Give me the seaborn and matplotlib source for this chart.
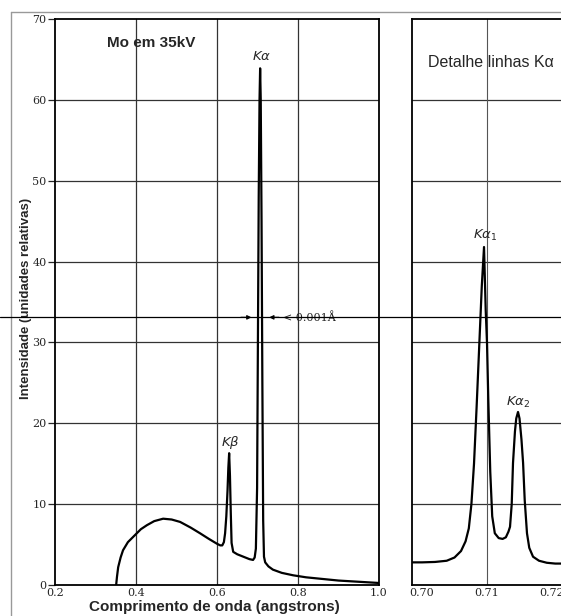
import numpy as np
import pandas as pd
import seaborn as sns
import matplotlib
matplotlib.use("Agg")
import matplotlib.pyplot as plt
from matplotlib.lines import Line2D
from matplotlib import transforms

# espectro completo (Mo, 35 kV)
wl_full = [0.351, 0.353, 0.356, 0.362, 0.368, 0.38, 0.398, 0.412, 0.427, 0.445,
           0.467, 0.488, 0.509, 0.535, 0.558, 0.580, 0.600, 0.608, 0.613, 0.617,
           0.620, 0.623, 0.626, 0.628, 0.630, 0.632, 0.634, 0.636, 0.640, 0.650,
           0.665, 0.680, 0.689, 0.693, 0.696, 0.699, 0.701, 0.703, 0.705, 0.7065,
           0.708, 0.710, 0.712, 0.714, 0.716, 0.719, 0.727, 0.738, 0.760, 0.788,
           0.820, 0.860, 0.900, 0.950, 1.000]
int_full = [0.0, 1.0, 2.2, 3.4, 4.3, 5.3, 6.2, 6.9, 7.4, 7.9,
            8.2, 8.1, 7.8, 7.1, 6.4, 5.7, 5.1, 4.9, 4.9, 5.3,
            6.4, 8.5, 11.7, 14.5, 16.3, 13.5, 9.0, 5.2, 4.1, 3.8,
            3.5, 3.2, 3.1, 3.4, 4.5, 12.0, 30.0, 48.0, 60.0, 63.9,
            60.0, 45.0, 25.0, 8.0, 3.5, 2.8, 2.3, 1.9, 1.5, 1.2,
            0.95, 0.75, 0.55, 0.4, 0.25]

# detalhe das linhas K-alfa
wl_det = [0.6985, 0.7000, 0.7020, 0.7038, 0.7050, 0.7060, 0.7067, 0.7072, 0.7076,
          0.7080, 0.7084, 0.7088, 0.7092, 0.70954, 0.7098, 0.7100, 0.7102, 0.7105,
          0.7108, 0.7112, 0.7118, 0.7124, 0.7129, 0.7133, 0.71354, 0.7138, 0.7140,
          0.7143, 0.7145, 0.71477, 0.7150, 0.7153, 0.71555, 0.7158, 0.71615,
          0.7165, 0.71708, 0.7180, 0.7192, 0.7205, 0.7230]
int_det = [2.8, 2.8, 2.85, 3.0, 3.4, 4.2, 5.4, 7.0, 10.0,
           15.0, 22.0, 29.5, 37.0, 41.8, 34.0, 29.9, 22.9, 14.0,
           8.5, 6.4, 5.8, 5.7, 5.9, 6.6, 7.2, 10.0, 15.1,
           19.0, 20.6, 21.4, 20.6, 18.0, 15.1, 10.5, 6.4,
           4.6, 3.5, 3.0, 2.75, 2.65, 2.65]

yticks = [0, 10, 20, 30, 40, 50, 60, 70]
xticks_full = [0.2, 0.4, 0.6, 0.8, 1.0]
xticks_det = [0.70, 0.71, 0.72]
half_max = 33.1

df_full = pd.DataFrame({"wl": wl_full, "i": int_full})
df_det = pd.DataFrame({"wl": wl_det, "i": int_det})

sns.set_theme(style="white")
plt.rcParams["font.family"] = ["Liberation Sans", "DejaVu Sans"]

W, H = 561, 616
fig = plt.figure(figsize=(W / 100, H / 100), dpi=100)


def box(x0, y0, x1, y1):
    # pixel box -> figure fraction
    return [x0 / W, 1 - y1 / H, (x1 - x0) / W, (y1 - y0) / H]


ax1 = fig.add_axes(box(55, 19, 379, 585))
ax2 = fig.add_axes(box(412, 19, 412 + 0.02415 * 6500, 585))

grid_kw = dict(color="#333333", lw=0.9, zorder=1)
for ax in (ax1, ax2):
    ax.set_ylim(0, 70)
    for y in yticks[1:-1]:
        ax.axhline(y, **grid_kw)
    for s in ax.spines.values():
        s.set_color("black")
        s.set_linewidth(1.3)

ax1.set_xlim(0.2, 1.0)
for x in xticks_full[1:-1]:
    ax1.axvline(x, **grid_kw)
ax2.set_xlim(0.69846, 0.72261)
ax2.axvline(0.71, color="#555555", lw=0.8, zorder=1)

sns.lineplot(data=df_full, x="wl", y="i", ax=ax1, sort=False, estimator=None,
             color="black", lw=1.6, zorder=3)
sns.lineplot(data=df_det, x="wl", y="i", ax=ax2, sort=False, estimator=None,
             color="black", lw=1.6, zorder=3)
for ax in (ax1, ax2):
    ax.set_xlabel("")
    ax.set_ylabel("")

tick_font = dict(family="DejaVu Serif", size=8)
ax1.set_yticks(yticks)
ax1.set_yticklabels([str(v) for v in yticks], **tick_font)
ax1.set_xticks(xticks_full)
ax1.set_xticklabels([f"{v:.1f}" for v in xticks_full], **tick_font)
ax1.tick_params(axis="y", length=5, width=0.9, pad=1, left=True)
ax1.tick_params(axis="x", length=0, pad=2)

ax2.set_yticks([])
ax2.set_xticks(xticks_det)
ax2.set_xticklabels([f"{v:.2f}" for v in xticks_det], **tick_font)
ax2.tick_params(axis="x", length=0, pad=2)
ax2.spines["right"].set_visible(False)

# textos
ax1.text(0.437, 67.0, "Mo em 35kV", ha="center", va="center",
         fontsize=11, fontweight="bold")
ax1.text(0.709, 65.4, r"$K\alpha$", ha="center", va="center", fontsize=9.5,
         family="DejaVu Serif")
ax1.text(0.632, 17.6, r"$K\beta$", ha="center", va="center", fontsize=9.5,
         family="DejaVu Serif")
ax1.text(0.764, half_max, "< 0.001Å", ha="left", va="center", fontsize=8,
         family="DejaVu Serif")
ax1.annotate("", xy=(0.692, half_max), xytext=(0.652, half_max),
             arrowprops=dict(arrowstyle="-|>", color="black", lw=0.9,
                             mutation_scale=6))
ax1.annotate("", xy=(0.722, half_max), xytext=(0.760, half_max),
             arrowprops=dict(arrowstyle="-|>", color="black", lw=0.9,
                             mutation_scale=6))

ax2.text(0.70092, 64.6, "Detalhe linhas Kα", ha="left", va="center",
         fontsize=11.5)
ax2.text(0.7098, 43.2, r"$K\alpha_1$", ha="center", va="center", fontsize=9.5,
         family="DejaVu Serif")
ax2.text(0.71477, 22.6, r"$K\alpha_2$", ha="center", va="center", fontsize=9.5,
         family="DejaVu Serif")

# linha de meia altura atravessando a figura
tr = transforms.blended_transform_factory(fig.transFigure, ax1.transData)
fig.add_artist(Line2D([0, 1], [half_max, half_max], transform=tr,
                      color="black", lw=0.9, zorder=5))

# moldura externa
fig.add_artist(Line2D([11 / W, 1], [1 - 12 / H, 1 - 12 / H],
                      transform=fig.transFigure, color="#999999", lw=1))
fig.add_artist(Line2D([11 / W, 11 / W], [0, 1 - 12 / H],
                      transform=fig.transFigure, color="#999999", lw=1))

fig.text(214 / W, 1 - 607 / H, "Comprimento de onda (angstrons)",
         ha="center", va="center", fontsize=11, fontweight="bold")
fig.text(26 / W, 1 - 298 / H, "Intensidade (unidades relativas)",
         ha="center", va="center", rotation=90, fontsize=9.5, fontweight="bold")

fig.savefig("out.png", dpi=100)
